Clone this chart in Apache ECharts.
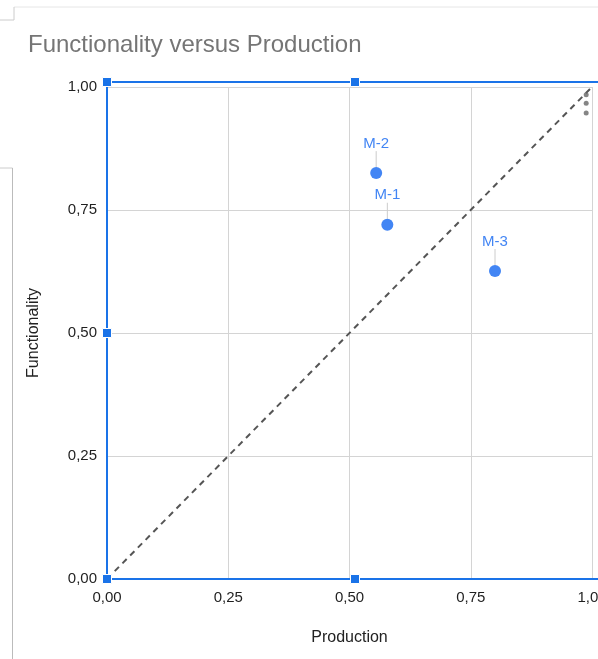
<!DOCTYPE html>
<html>
<head>
<meta charset="utf-8">
<script src="https://cdn.jsdelivr.net/npm/echarts@6/dist/echarts.min.js"></script>
<style>
html,body{margin:0;padding:0;background:#fff;}
#chart{width:598px;height:659px;}
</style>
</head>
<body>
<div id="chart"></div>
<script>
// ---- data ----
var modelNames = ['M-1', 'M-2', 'M-3'];
var production = [0.578, 0.555, 0.80];
var functionality = [0.72, 0.825, 0.626];
var diagonalX = [0, 1];
var diagonalY = [0, 1];
var smallDotsX = [0.988, 0.988, 0.988];
var smallDotsY = [0.984, 0.967, 0.947];
var tickValues = [0, 0.25, 0.5, 0.75, 1];

var fmt = function (v) { return v.toFixed(2).replace('.', ','); };

var pts = modelNames.map(function (n, i) { return { name: n, value: [production[i], functionality[i]] }; });
var diag = diagonalX.map(function (x, i) { return [x, diagonalY[i]]; });
var dots = smallDotsX.map(function (x, i) { return [x, smallDotsY[i]]; });

var BLUE = '#1a73e8';
var font = 'Arial, "Liberation Sans", sans-serif';
var chart = echarts.init(document.getElementById('chart'), null, { renderer: 'canvas' });

function handle(x, y) {
  return { type: 'rect', shape: { x: x - 4.5, y: y - 4.5, width: 9, height: 9 }, style: { fill: BLUE, stroke: '#fff', lineWidth: 1 }, z: 110 };
}
function line(x1, y1, x2, y2, color, w) {
  return { type: 'line', shape: { x1: x1, y1: y1, x2: x2, y2: y2 }, style: { stroke: color, lineWidth: w }, z: 100 };
}

chart.setOption({
  animation: false,
  backgroundColor: '#fff',
  title: {
    text: 'Functionality versus Production',
    left: 23, top: 28,
    textStyle: { fontFamily: font, fontSize: 24, fontWeight: 'normal', color: '#757575' }
  },
  grid: { left: 107, right: 6, top: 87, bottom: 80, containLabel: false, outerBoundsMode: 'none' },
  xAxis: {
    type: 'value', min: 0, max: 1, interval: 0.25,
    name: 'Production', nameLocation: 'middle', nameGap: 51,
    nameTextStyle: { fontFamily: font, fontSize: 16, color: '#222' },
    axisLine: { show: false }, axisTick: { show: false },
    axisLabel: { formatter: fmt, fontFamily: font, fontSize: 15, color: '#1f1f1f', margin: 11, showMaxLabel: true, hideOverlap: false },
    splitLine: { show: true, lineStyle: { color: '#d4d4d4', width: 1 } }
  },
  yAxis: {
    type: 'value', min: 0, max: 1, interval: 0.25,
    name: 'Functionality', nameLocation: 'middle', nameGap: 65,
    nameTextStyle: { fontFamily: font, fontSize: 16, color: '#222' },
    axisLine: { show: false }, axisTick: { show: false },
    axisLabel: { formatter: fmt, fontFamily: font, fontSize: 15, color: '#1f1f1f', margin: 10 },
    splitLine: { show: true, lineStyle: { color: '#d4d4d4', width: 1 } }
  },
  series: [
    {
      type: 'line', data: diag, symbol: 'none', silent: true,
      lineStyle: { color: '#555', width: 2, type: [6, 5] }, z: 3
    },
    {
      type: 'scatter', data: dots, symbolSize: 5, silent: true,
      itemStyle: { color: '#666' }, z: 4
    },
    {
      type: 'scatter', data: pts, symbolSize: 12,
      itemStyle: { color: '#4285f4', opacity: 1 },
      label: {
        show: true, position: 'top', distance: 4, formatter: '{b}',
        fontFamily: font, fontSize: 15, color: '#4285f4'
      },
      labelLayout: { dy: -12 },
      labelLine: { show: true, lineStyle: { color: '#cccccc', width: 1 } },
      z: 5
    }
  ],
  graphic: [
    line(14, 7, 598, 7, '#e6e6e6', 1),
    line(14, 7, 14, 20, '#cccccc', 1),
    line(0, 20, 14, 20, '#cccccc', 1),
    line(0, 168, 12.5, 168, '#cccccc', 1),
    line(12.5, 168, 12.5, 659, '#bbbbbb', 1),
    line(107, 82, 598, 82, BLUE, 2),
    line(107, 82, 107, 579, BLUE, 2),
    line(107, 579, 598, 579, BLUE, 2),
    handle(107, 82), handle(355, 82), handle(107, 333), handle(107, 579), handle(355, 579)
  ]
});
</script>
</body>
</html>
